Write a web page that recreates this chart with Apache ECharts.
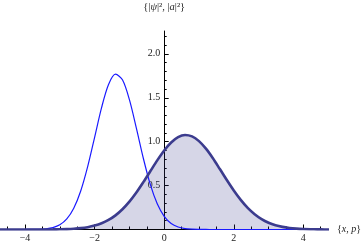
<!DOCTYPE html>
<html>
<head>
<meta charset="utf-8">
<script src="https://cdn.jsdelivr.net/npm/echarts@6/dist/echarts.min.js"></script>
<style>html,body{margin:0;padding:0;background:#fff;}#c{width:361px;height:244px;}</style>
</head>
<body>
<div id="c"></div>
<script>
// sample positions along x (or p)
const xs = [-4.8,-4.6,-4.4,-4.2,-4.0,-3.8,-3.6,-3.4,-3.2,-3.0,-2.8,-2.6,-2.4,-2.2,-2.0,-1.8,-1.6,-1.4,-1.2,-1.0,-0.8,-0.6,-0.4,-0.2,0.0,0.2,0.4,0.6,0.8,1.0,1.2,1.4,1.6,1.8,2.0,2.2,2.4,2.6,2.8,3.0,3.2,3.4,3.6,3.8,4.0,4.2,4.4,4.6,4.8];
// |psi|^2 (thin blue curve)
const psiSq = [0,0,0,0,0.0002,0.0007,0.0026,0.0078,0.0216,0.053,0.120,0.242,0.438,0.715,1.050,1.388,1.651,1.768,1.704,1.478,1.154,0.811,0.513,0.292,0.150,0.069,0.029,0.011,0.0036,0.0011,0.0003,0,0,0,0,0,0,0,0,0,0,0,0,0,0,0,0,0,0];
// |a|^2 (thick filled curve)
const aSq = [0,0,0,0,0.0001,0.0001,0.0003,0.0006,0.0012,0.0024,0.0047,0.0087,0.0155,0.0266,0.0442,0.0706,0.1088,0.161,0.2305,0.317,0.421,0.539,0.663,0.787,0.900,0.991,1.052,1.076,1.060,1.006,0.920,0.811,0.688,0.563,0.444,0.337,0.246,0.174,0.118,0.0773,0.0487,0.0296,0.0173,0.0098,0.0053,0.0028,0.0014,0.0007,0.0003];
// ticks
const xMajorTicks = [-4,-2,0,2,4];
const xMinorTicks = [-4.5,-4,-3.5,-3,-2.5,-2,-1.5,-1,-0.5,0,0.5,1,1.5,2,2.5,3,3.5,4,4.5];
const yMajorTicks = [0.5,1.0,1.5,2.0];
const yTickLabels = ['0.5','1.0','1.5','2.0'];
const yMinorTicks = [0.1,0.2,0.3,0.4,0.5,0.6,0.7,0.8,0.9,1.0,1.1,1.2,1.3,1.4,1.5,1.6,1.7,1.8,1.9,2.0,2.1,2.2];

const XMIN = -4.72, XMAX = 4.68, YMIN = 0, YMAX = 2.26;
const GRID_W = 327;
const Y_OFFSET = -GRID_W * (0 - XMIN) / (XMAX - XMIN);
const font = "'Liberation Serif', 'DejaVu Serif', serif";
const txt = '#222';

const psiData = xs.map((x,i)=>[x, psiSq[i]]);
const aData = xs.map((x,i)=>[x, aSq[i]]);

const chart = echarts.init(document.getElementById('c'), null, {renderer:'canvas'});
chart.setOption({
  animation: false,
  backgroundColor: '#fff',
  grid: {left: 0, width: GRID_W, top: 31, bottom: 14.5, outerBoundsMode: 'none', containLabel: false},
  xAxis: [
    {
      type: 'value', min: XMIN, max: XMAX,
      axisLine: {show: true, onZero: false, lineStyle: {color: '#000', width: 1}},
      axisTick: {show: true, inside: true, length: 5, customValues: xMajorTicks, lineStyle: {color: '#000'}},
      axisLabel: {show: true, customValues: xMajorTicks, margin: 4, fontFamily: font, fontSize: 10, color: txt,
        formatter: v => String(v).replace('-', '\u2212')},
      splitLine: {show: false},
      name: '{{i|x}, {i|p}}', nameLocation: 'end', nameGap: 10,
      nameTextStyle: {fontFamily: font, fontSize: 10, color: txt, verticalAlign: 'middle',
        rich: {i: {fontStyle: 'italic', fontFamily: font, fontSize: 10, color: txt}}}
    },
    {
      type: 'value', min: XMIN, max: XMAX, position: 'bottom',
      axisLine: {show: false, onZero: false},
      axisTick: {show: true, inside: true, length: 3, customValues: xMinorTicks, lineStyle: {color: '#000'}},
      axisLabel: {show: false},
      splitLine: {show: false}
    }
  ],
  yAxis: [
    {
      type: 'value', min: YMIN, max: YMAX, position: 'left', offset: Y_OFFSET,
      axisLine: {show: true, onZero: false, lineStyle: {color: '#000', width: 1}},
      axisTick: {show: true, inside: true, length: 4.5, customValues: yMajorTicks, lineStyle: {color: '#000'}},
      axisLabel: {show: true, customValues: yMajorTicks, margin: 4, fontFamily: font, fontSize: 10, color: txt,
        formatter: v => yTickLabels[yMajorTicks.indexOf(Number(v))] || String(v)},
      splitLine: {show: false},
      name: '{|{i|ψ}|², |{i|a}|²}', nameLocation: 'end', nameGap: 18,
      nameTextStyle: {fontFamily: font, fontSize: 10.5, color: txt, align: 'center',
        rich: {i: {fontStyle: 'italic', fontFamily: font, fontSize: 10.5, color: txt}}}
    },
    {
      type: 'value', min: YMIN, max: YMAX, position: 'left', offset: Y_OFFSET,
      axisLine: {show: false, onZero: false},
      axisTick: {show: true, inside: true, length: 2.5, customValues: yMinorTicks, lineStyle: {color: '#000'}},
      axisLabel: {show: false},
      splitLine: {show: false}
    }
  ],
  series: [
    {
      type: 'line', data: aData, xAxisIndex: 0, yAxisIndex: 0, showSymbol: false, symbol: 'none',
      smooth: 0.3, lineStyle: {width: 0, opacity: 0},
      areaStyle: {color: 'rgba(60,60,140,0.21)', opacity: 1, origin: 'start'}, z: 1, silent: true
    },
    {
      type: 'line', data: psiData, xAxisIndex: 0, yAxisIndex: 0, showSymbol: false, symbol: 'none',
      smooth: 0.3, lineStyle: {color: '#1a1aff', width: 1.2}, z: 2, silent: true
    },
    {
      type: 'line', data: aData, xAxisIndex: 0, yAxisIndex: 0, showSymbol: false, symbol: 'none',
      smooth: 0.3, lineStyle: {color: '#3c3c8e', width: 2.6}, z: 3, silent: true
    }
  ]
});
</script>
</body>
</html>
